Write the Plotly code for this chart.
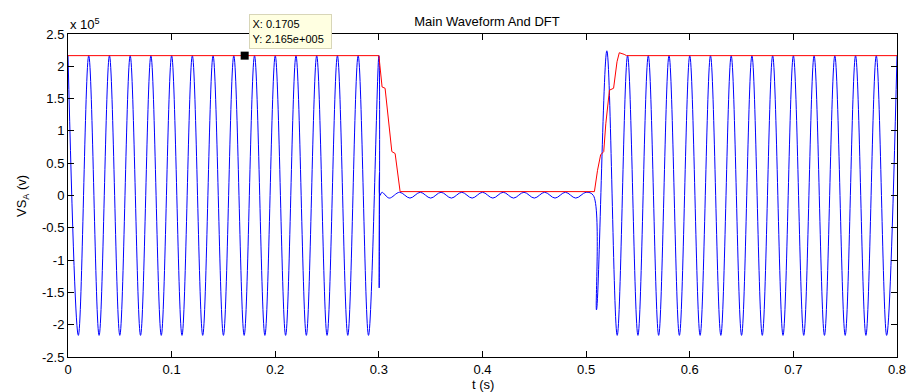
import plotly.graph_objects as go

# ---- Blue waveform VS_A (V): extrema ----
t_pre = [0.00, 0.01, 0.02, 0.03, 0.04, 0.05, 0.06, 0.07, 0.08, 0.09,
         0.10, 0.11, 0.12, 0.13, 0.14, 0.15, 0.16, 0.17, 0.18, 0.19,
         0.20, 0.21, 0.22, 0.23, 0.24, 0.25, 0.26, 0.27, 0.28, 0.29, 0.30]
v_pre = [216500, -216500, 216500, -216500, 216500, -216500, 216500, -216500, 216500, -216500,
         216500, -216500, 216500, -216500, 216500, -216500, 216500, -216500, 216500, -216500,
         216500, -216500, 216500, -216500, 216500, -216500, 216500, -216500, 216500, -216500, 216500]

t_fault = [0.3003, 0.3006, 0.3010, 0.3030, 0.31, 0.32, 0.33, 0.34, 0.35, 0.36, 0.37,
           0.38, 0.39, 0.40, 0.41, 0.42, 0.43, 0.44, 0.45, 0.46, 0.47, 0.48,
           0.49, 0.50, 0.5070]
v_fault = [-143000, 35000, 0, 5000, -4000, 5000, -4000, 5000, -4000, 5000, -4000,
           5000, -4000, 5000, -4000, 5000, -4000, 5000, -4000, 5000, -4000, 5000,
           -4000, 5000, 0]

t_post = [0.51, 0.52, 0.53, 0.54, 0.55, 0.56, 0.57, 0.58, 0.59, 0.60,
          0.61, 0.62, 0.63, 0.64, 0.65, 0.66, 0.67, 0.68, 0.69, 0.70,
          0.71, 0.72, 0.73, 0.74, 0.75, 0.76, 0.77, 0.78, 0.79, 0.80]
v_post = [-177000, 224000, -216500, 216500, -216500, 216500, -216500, 216500, -216500, 216500,
          -216500, 216500, -216500, 216500, -216500, 216500, -216500, 216500, -216500, 216500,
          -216500, 216500, -216500, 216500, -216500, 216500, -216500, 216500, -216500, 216500]

# ---- Red DFT magnitude ----
t_dft = [0.0, 0.300, 0.3031, 0.306, 0.3125, 0.3157, 0.3205, 0.508, 0.511, 0.514,
         0.517, 0.519, 0.5225, 0.5265, 0.5298, 0.532, 0.5367, 0.539, 0.80]
v_dft = [216500, 216500, 168000, 166000, 68000, 65000, 6000, 6000, 39000, 63000,
         68000, 111000, 163000, 166000, 207000, 221000, 218500, 216500, 216500]

# ---- Data tip ----
tip_x = [0.1705]
tip_y = [216500]

x_ticks = [0, 0.1, 0.2, 0.3, 0.4, 0.5, 0.6, 0.7, 0.8]
x_ticktext = ["0", "0.1", "0.2", "0.3", "0.4", "0.5", "0.6", "0.7", "0.8"]
y_ticks = [-250000, -200000, -150000, -100000, -50000, 0, 50000, 100000, 150000, 200000, 250000]
y_ticktext = ["-2.5", "-2", "-1.5", "-1", "-0.5", "0", "0.5", "1", "1.5", "2", "2.5"]

FONT = "Liberation Sans, Arial, Helvetica, sans-serif"
FS = 13

fig = go.Figure()
fig.add_trace(go.Scatter(x=t_pre + t_fault + t_post, y=v_pre + v_fault + v_post,
                         mode="lines", line=dict(color="#0000ff", width=1, shape="spline", smoothing=1),
                         showlegend=False, hoverinfo="skip"))
fig.add_trace(go.Scatter(x=t_dft, y=v_dft, mode="lines",
                         line=dict(color="#ff0000", width=1), showlegend=False, hoverinfo="skip"))
fig.add_trace(go.Scatter(x=tip_x, y=tip_y, mode="markers",
                         marker=dict(symbol="square", size=8, color="black"),
                         showlegend=False, hoverinfo="skip"))

axis_common = dict(showgrid=False, zeroline=False, showline=True, linecolor="black", linewidth=1,
                   mirror="ticks", ticks="inside", ticklen=6, tickcolor="black",
                   tickfont=dict(family=FONT, size=FS, color="black"))

fig.update_layout(
    width=916, height=392,
    margin=dict(l=68, r=10, t=34, b=35),
    paper_bgcolor="white", plot_bgcolor="white",
    font=dict(family=FONT, size=FS, color="black"),
    xaxis=dict(range=[0, 0.8], tickvals=x_ticks, ticktext=x_ticktext, **axis_common),
    yaxis=dict(range=[-250000, 250000], tickvals=y_ticks, ticktext=y_ticktext, **axis_common),
    title=dict(text="Main Waveform And DFT", x=487 / 916, xanchor="center", y=1 - 21 / 392, yanchor="middle",
               font=dict(family=FONT, size=FS, color="black")),
    annotations=[
        dict(text="x 10<sup>5</sup>", xref="paper", yref="paper", x=0, y=1, xanchor="left", yanchor="bottom",
             showarrow=False, font=dict(family=FONT, size=FS)),
        dict(text="VS<sub>A</sub> (v)", xref="paper", yref="paper", x=(22 - 68) / 838, y=0.5,
             xanchor="center", yanchor="middle", textangle=-90, showarrow=False, font=dict(family=FONT, size=FS)),
        dict(text="t (s)", xref="paper", yref="paper", x=(487 - 68) / 838, y=(357 - 384) / 323,
             xanchor="center", yanchor="middle", showarrow=False, font=dict(family=FONT, size=FS)),
        dict(text="X: " + str(tip_x[0]) + "<br>Y: 2.165e+005", xref="x", yref="paper",
             x=0.1747, y=(357 - 14) / 323, xanchor="left", yanchor="top", align="left",
             width=76, height=28, borderpad=2.5,
             showarrow=False, bgcolor="#ffffe1", bordercolor="#d8d6b8", borderwidth=1,
             font=dict(family=FONT, size=11, color="black")),
    ],
)

fig.write_html("out.html")
